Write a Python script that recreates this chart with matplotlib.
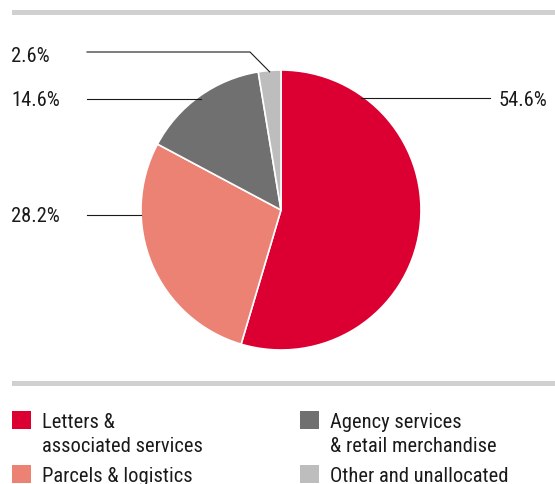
import numpy as np
import matplotlib.pyplot as plt
from matplotlib.patches import Rectangle

plt.rcParams['font.family'] = ['Roboto Condensed', 'DejaVu Sans']
plt.rcParams['text.color'] = '#1a1a1a'

# Revenue split
categories = ['Letters &\nassociated services', 'Parcels & logistics',
              'Agency services\n& retail merchandise', 'Other and unallocated']
shares = [54.6, 28.2, 14.6, 2.6]
labels = ['54.6%', '28.2%', '14.6%', '2.6%']
colors = ['#DC0032', '#EB8273', '#707070', '#BDBDBD']

W, H = 555, 484
fig = plt.figure(figsize=(W / 100, H / 100), dpi=100)

# overlay in pixel coordinates for rules and legend
bg = fig.add_axes([0, 0, 1, 1])
bg.set_xlim(0, W)
bg.set_ylim(H, 0)
bg.axis('off')
bg.add_patch(Rectangle((12, 10), W - 12, 5, color='#D0D0D0', lw=0))
bg.add_patch(Rectangle((12, 381), W - 12, 5, color='#D0D0D0', lw=0))

# pie
cx, cy, r = 281, 210, 140
ax = fig.add_axes([(cx - r) / W, (H - cy - r) / H, 2 * r / W, 2 * r / H])
wedges, _ = ax.pie(shares, colors=colors, startangle=90, counterclock=False,
                   radius=1, wedgeprops=dict(edgecolor='white', linewidth=1.2))
ax.set_xlim(-1, 1)
ax.set_ylim(-1, 1)
ax.set_aspect('equal')
ax.axis('off')

fs = 14.8
lc = '#1a1a1a'


def to_pie(px, py):
    return (px - cx) / r, (cy - py) / r


# 54.6% on the right
y = to_pie(0, 98)[1]
x0 = np.sqrt(1 - y ** 2)
ax.plot([x0 - 0.03, to_pie(490, 0)[0]], [y, y], color=lc, lw=0.8, clip_on=False)
ax.text(to_pie(499, 0)[0], to_pie(0, 100)[1], labels[0], fontsize=fs, va='center', ha='left')

# 28.2% on the left
y = to_pie(0, 215)[1]
x0 = -np.sqrt(1 - y ** 2)
ax.plot([to_pie(87, 0)[0], x0], [y, y], color=lc, lw=0.8, clip_on=False)
ax.text(to_pie(11, 0)[0], to_pie(0, 217)[1], labels[1], fontsize=fs, va='center', ha='left')

# 14.6% on the left
y = to_pie(0, 99)[1]
x0 = -np.sqrt(1 - y ** 2)
ax.plot([to_pie(87, 0)[0], x0 + 0.04], [y, y], color=lc, lw=0.8, clip_on=False)
ax.text(to_pie(11, 0)[0], to_pie(0, 101)[1], labels[2], fontsize=fs, va='center', ha='left')

# 2.6% with an elbow
ang = np.deg2rad(90 + shares[3] * 3.6 / 2)
ex, ey = 0.99 * np.cos(ang), 0.99 * np.sin(ang)
kx, ky = to_pie(250, 52)
ax.plot([to_pie(87, 0)[0], kx, ex], [ky, ky, ey], color=lc, lw=0.8, clip_on=False)
ax.text(to_pie(11, 0)[0], to_pie(0, 56)[1], labels[3], fontsize=fs, va='center', ha='left')

# legend, one baseline per text line
slots = [(12, 411), (12, 465), (300, 411), (300, 465)]
for (lx, ly), c, name in zip(slots, colors, categories):
    bg.add_patch(Rectangle((lx, ly), 19, 18, color=c, lw=0))
    for i, line in enumerate(name.split('\n')):
        bg.text(lx + 30, ly + 17 + 24 * i, line, fontsize=fs, va='baseline', ha='left')

fig.savefig('out.png', dpi=100)
